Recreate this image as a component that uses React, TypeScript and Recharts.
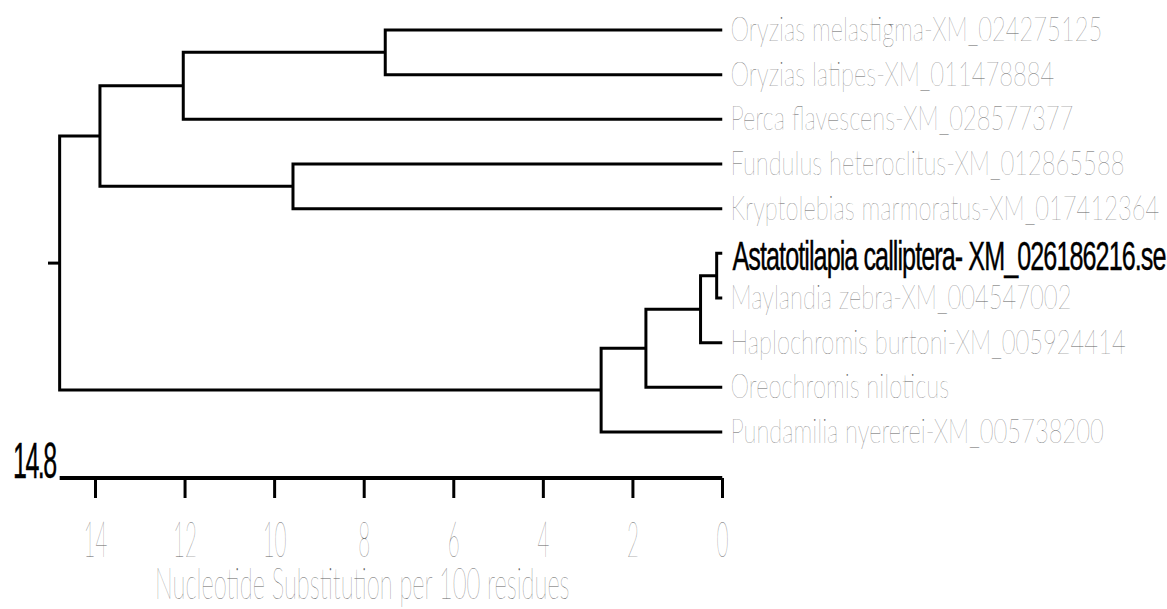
import { LineChart, Line, XAxis, YAxis, ReferenceDot, Label } from "recharts";

document.body.style.margin = "0";

// leaves, top to bottom
const leafNames = [
  "Oryzias melastigma-XM_024275125",
  "Oryzias latipes-XM_011478884",
  "Perca flavescens-XM_028577377",
  "Fundulus heteroclitus-XM_012865588",
  "Kryptolebias marmoratus-XM_017412364",
  "Astatotilapia calliptera- XM_026186216.se",
  "Maylandia zebra-XM_004547002",
  "Haplochromis burtoni-XM_005924414",
  "Oreochromis niloticus",
  "Pundamilia nyererei-XM_005738200",
];
const queryLeaf = 5;

// internal nodes (children listed before parents), heights in substitutions per 100 residues
const nodeIds = ["n1", "n2", "n3", "n4", "n5", "n6", "n7", "n8", "root"];
const nodeHeights = [7.53, 12.04, 9.59, 13.9, 0.13, 0.49, 1.71, 2.71, 14.8];
const nodeChildren = [
  ["L0", "L1"],
  ["n1", "L2"],
  ["L3", "L4"],
  ["n2", "n3"],
  ["L5", "L6"],
  ["n5", "L7"],
  ["n6", "L8"],
  ["n7", "L9"],
  ["n4", "n8"],
];

const rootStem = 0.26;
const distTicks = [0, 2, 4, 6, 8, 10, 12, 14];
const leafTicks = leafNames.map((_, i) => i);
const yMax = 10.03; // scale bar sits a little under the last leaf

type Pt = { x: number; y: number };
const pos: Record<string, Pt> = {};
leafNames.forEach((_, i) => {
  pos[`L${i}`] = { x: 0, y: i };
});
nodeIds.forEach((id, i) => {
  const [a, b] = nodeChildren[i];
  pos[id] = { x: nodeHeights[i], y: (pos[a].y + pos[b].y) / 2 };
});

const branches: Pt[][] = nodeIds.map((id, i) => {
  const [a, b] = nodeChildren[i];
  const p = pos[id];
  return [
    { x: pos[a].x, y: pos[a].y },
    { x: p.x, y: pos[a].y },
    { x: p.x, y: pos[b].y },
    { x: pos[b].x, y: pos[b].y },
  ];
});
const root = pos["root"];
const stem: Pt[] = [
  { x: root.x, y: root.y },
  { x: root.x + rootStem, y: root.y },
];
const scaleBar: Pt[] = [
  { x: 0, y: yMax },
  { x: root.x, y: yMax },
];

const thinFont = "Lato, Roboto, 'Noto Sans', sans-serif";
const narrowFont = "'Liberation Sans Narrow', 'Liberation Sans', Arial, sans-serif";
const grey = "#626262";

const LeafTick = (props: any) => {
  const { x, y, payload } = props;
  const i = payload.value as number;
  if (i === queryLeaf) {
    return (
      <text
        transform={`translate(${x + 10},${y + 17}) scale(0.63,1)`}
        fontFamily={narrowFont}
        fontSize={40}
        letterSpacing={-1.5}
        fill="#000"
        stroke="#000"
        strokeWidth={0.4}
      >
        {leafNames[i]}
      </text>
    );
  }
  return (
    <text
      transform={`translate(${x + 8},${y + 11}) scale(0.72,1)`}
      fontFamily={thinFont}
      fontWeight={100}
      fontSize={33}
      fill={grey}
    >
      {leafNames[i]}
    </text>
  );
};

const DistTick = (props: any) => {
  const { x, y, payload } = props;
  return (
    <text
      transform={`translate(${x},${y + 57}) scale(0.42,1)`}
      textAnchor="middle"
      fontFamily={thinFont}
      fontWeight={100}
      fontSize={49}
      fill={grey}
    >
      {payload.value}
    </text>
  );
};

const AxisTitle = (props: any) => {
  const { viewBox } = props;
  return (
    <text
      transform={`translate(${viewBox.x + 107},${599}) scale(0.54,1)`}
      fontFamily={thinFont}
      fontWeight={100}
      fontSize={44}
      fill={grey}
    >
      Nucleotide Substitution per 100 residues
    </text>
  );
};

const RootLabel = (props: any) => {
  const { viewBox } = props;
  return (
    <text
      transform={`translate(${viewBox.x - 4},${viewBox.y}) scale(0.5,1)`}
      textAnchor="end"
      fontFamily={narrowFont}
      fontSize={50}
      letterSpacing={-3}
      fill="#000"
      stroke="#000"
      strokeWidth={0.4}
    >
      {root.x}
    </text>
  );
};

export default function App() {
  return (
    <LineChart width={1167} height={609} margin={{ top: 30, right: 0, bottom: 0, left: 48 }}>
      <XAxis
        type="number"
        dataKey="x"
        domain={[0, root.x + rootStem]}
        reversed
        ticks={distTicks}
        axisLine={false}
        tickLine={{ stroke: "#000", strokeWidth: 3 }}
        tickSize={20}
        tick={<DistTick />}
        height={131}
        allowDataOverflow
      >
        <Label content={<AxisTitle />} />
      </XAxis>
      <YAxis
        type="number"
        dataKey="y"
        orientation="right"
        domain={[0, yMax]}
        reversed
        ticks={leafTicks}
        axisLine={false}
        tickLine={false}
        tickSize={0}
        tickMargin={0}
        width={444.5}
        tick={<LeafTick />}
        interval={0}
      />
      {branches.map((b, i) => (
        <Line
          key={nodeIds[i]}
          data={b}
          dataKey="y"
          type="linear"
          stroke="#000"
          strokeWidth={3}
          dot={false}
          activeDot={false}
          isAnimationActive={false}
        />
      ))}
      <Line data={stem} dataKey="y" stroke="#000" strokeWidth={3} dot={false} activeDot={false} isAnimationActive={false} />
      <Line data={scaleBar} dataKey="y" stroke="#000" strokeWidth={4} dot={false} activeDot={false} isAnimationActive={false} />
      <ReferenceDot x={root.x} y={yMax} r={0} fill="none" stroke="none" label={<RootLabel />} />
    </LineChart>
  );
}
